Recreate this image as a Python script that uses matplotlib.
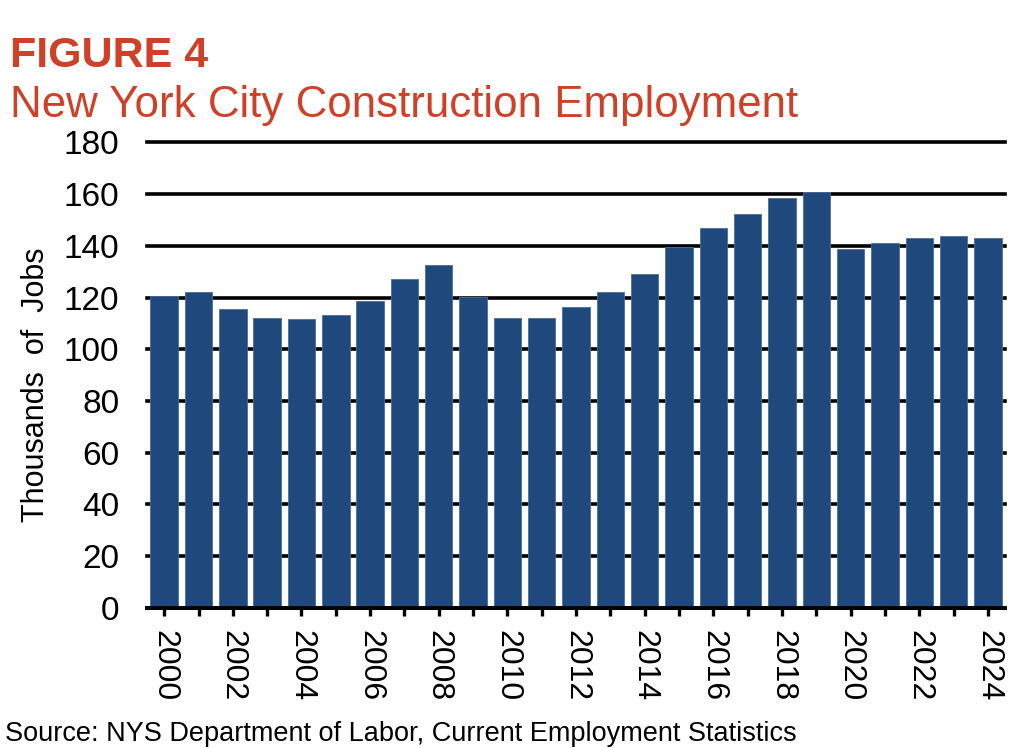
import matplotlib
matplotlib.use("Agg")
import matplotlib.pyplot as plt

plt.rcParams["font.family"] = ["Liberation Sans", "DejaVu Sans"]

# ----------------------------------------------------------------- data
years = list(range(2000, 2025))
jobs = [120.5, 122.0, 115.7, 112.2, 111.6, 113.4, 118.5, 127.3, 132.4, 120.2,
        112.2, 112.2, 116.2, 122.0, 129.0, 139.5, 147.0, 152.1, 158.4, 160.9,
        138.7, 141.2, 142.9, 143.6, 142.9]
y_ticks = [0, 20, 40, 60, 80, 100, 120, 140, 160, 180]
x_labels = [str(y) if y % 2 == 0 else "" for y in years]

RED = "#CE4128"
BLUE = "#1F497D"

# ----------------------------------------------------------------- plot
fig = plt.figure(figsize=(10.19, 7.48), dpi=100)
ax = fig.add_axes([0.1443, 0.1872, 0.842, 0.6226])

x = list(range(len(years)))
ax.bar(x, jobs, width=0.8, color=BLUE, edgecolor="#4A6E9A", linewidth=0.6, zorder=3)

ax.set_xlim(-0.5, len(years) - 0.5)
ax.set_ylim(0, 180)
ax.set_yticks(y_ticks)
ax.set_yticklabels([str(v) for v in y_ticks], fontsize=24)
ax.yaxis.grid(True, color="black", linewidth=2.6, zorder=0)
ax.set_axisbelow(True)
for gl in ax.get_ygridlines():
    gl.set_clip_on(False)  # keep the top (180) line full width

ax.set_xticks(x)
ax.set_xticklabels(x_labels, rotation=270, fontsize=23, va="top", ha="center")
ax.tick_params(axis="x", direction="out", length=6, width=2.4, color="black", pad=10)
ax.tick_params(axis="y", length=0, pad=20)

for side in ("top", "right", "left"):
    ax.spines[side].set_visible(False)
ax.spines["bottom"].set_linewidth(2.8)
ax.spines["bottom"].set_zorder(4)

ax.set_ylabel("Thousands  of  Jobs", fontsize=22)
ax.yaxis.set_label_coords(-0.112, 0.48)

fig.text(0.0098, 1 - 66.7 / 748, "FIGURE 4", color=RED, fontsize=31,
         fontweight="bold", va="baseline", ha="left")
fig.text(0.0098, 1 - 116.7 / 748, "New York City Construction Employment",
         color=RED, fontsize=31.6, va="baseline", ha="left")
fig.text(0.005, 1 - 741 / 748,
         "Source: NYS Department of Labor, Current Employment Statistics",
         fontsize=19.5, va="baseline", ha="left")

fig.savefig("out.png", dpi=100)
